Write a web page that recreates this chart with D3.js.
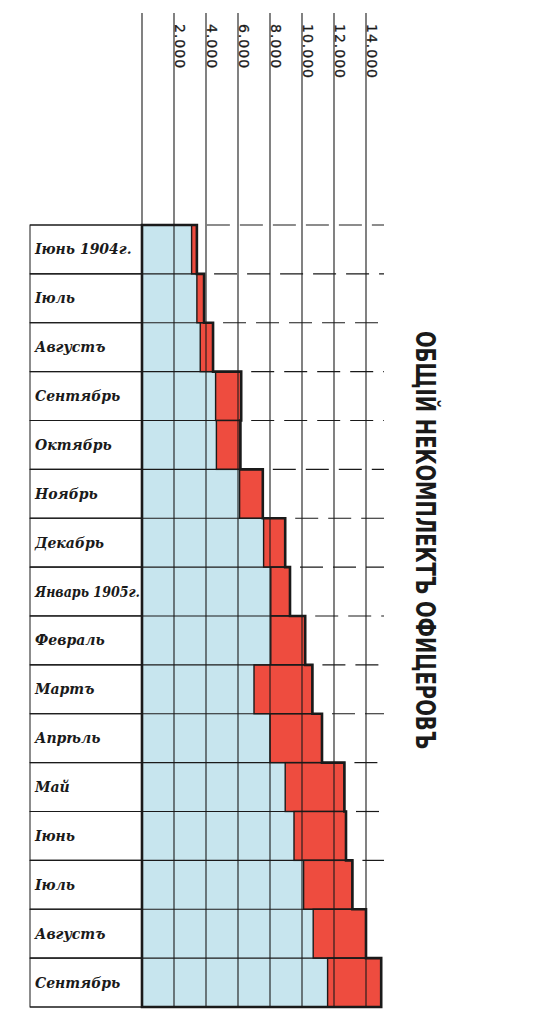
<!DOCTYPE html>
<html>
<head>
<meta charset="utf-8">
<script src="https://cdn.jsdelivr.net/npm/d3@7"></script>
<style>
html,body{margin:0;padding:0;background:#fff;}
svg{display:block;}
</style>
</head>
<body>
<svg id="chart" width="549" height="1016"></svg>
<script>
// ---- data ----
const months = ["Іюнь 1904г.", "Іюль", "Августъ", "Сентябрь", "Октябрь", "Ноябрь", "Декабрь",
  "Январь 1905г.", "Февраль", "Мартъ", "Апрѣль", "Май", "Іюнь", "Іюль", "Августъ", "Сентябрь"];
const blueValues = [3100, 3430, 3640, 4600, 4650, 6100, 7600, 8050, 8050, 7000, 8000, 8950, 9500, 10100, 10700, 11600];
const redValues  = [330, 450, 800, 1600, 1500, 1450, 1350, 1200, 2150, 3650, 3250, 3700, 3250, 3050, 3300, 3350];
const tickValues = [0, 2000, 4000, 6000, 8000, 10000, 12000, 14000];
const tickLabels = ["", "2.000", "4.000", "6.000", "8.000", "10.000", "12.000", "14.000"];
const title = "ОБЩІЙ НЕКОМПЛЕКТЪ ОФИЦЕРОВЪ";

// ---- layout ----
const svg = d3.select("#chart");
const gridTop = 13, plotTop = 225, plotBottom = 1007, labelLeft = 30, dashEnd = 384;
const x = d3.scaleLinear().domain([0, 14000]).range([142, 366]);
const idx = d3.range(months.length);
const y = d3.scaleBand().domain(idx).range([plotTop, plotBottom]).padding(0);
const totals = idx.map(i => blueValues[i] + redValues[i]);
const BLUE = "#c7e5ee", RED = "#ee4c3f", INK = "#1a1a1a";

svg.append("rect").attr("width", 549).attr("height", 1016).attr("fill", "#fff");

// label cells
svg.append("g").selectAll("rect").data(idx).join("rect")
  .attr("x", labelLeft).attr("y", i => y(i))
  .attr("width", x(0) - labelLeft).attr("height", y.bandwidth())
  .attr("fill", "#fff").attr("stroke", INK).attr("stroke-width", 1);

// blue bars
svg.append("g").selectAll("rect").data(idx).join("rect")
  .attr("x", x(0)).attr("y", i => y(i))
  .attr("width", i => x(blueValues[i]) - x(0)).attr("height", y.bandwidth())
  .attr("fill", BLUE);

// red bars
svg.append("g").selectAll("rect").data(idx).join("rect")
  .attr("x", i => x(blueValues[i])).attr("y", i => y(i))
  .attr("width", i => x(totals[i]) - x(blueValues[i])).attr("height", y.bandwidth())
  .attr("fill", RED).attr("stroke", INK).attr("stroke-width", 1.4);

// row boundary lines (inside)
const bounds = d3.range(months.length + 1);
svg.append("g").selectAll("line").data(bounds).join("line")
  .attr("x1", labelLeft)
  .attr("x2", b => {
    const a = totals[Math.max(0, b - 1)], c = totals[Math.min(months.length - 1, b)];
    return x(Math.min(a, c));
  })
  .attr("y1", b => b < months.length ? y(b) : plotBottom)
  .attr("y2", b => b < months.length ? y(b) : plotBottom)
  .attr("stroke", INK).attr("stroke-width", 1.1);

// dashed continuations of row lines
const dashStart = b => x(Math.max(totals[Math.max(0, b - 1)], totals[b])) + 10;
svg.append("g").selectAll("line").data(d3.range(months.length)).join("line")
  .attr("x1", dashStart)
  .attr("x2", dashEnd)
  .attr("y1", b => y(b)).attr("y2", b => y(b))
  .attr("stroke", INK).attr("stroke-width", 1.2)
  .attr("stroke-dasharray", "23,10")
  .attr("display", b => (dashEnd - dashStart(b)) > 12 ? null : "none");

// vertical grid lines
svg.append("g").selectAll("line").data(tickValues).join("line")
  .attr("x1", d => x(d)).attr("x2", d => x(d))
  .attr("y1", gridTop).attr("y2", plotBottom)
  .attr("stroke", INK).attr("stroke-width", 1.1);

// thick envelope of the bars
const pts = [[x(0), plotTop]];
idx.forEach(i => {
  pts.push([x(totals[i]), y(i)]);
  pts.push([x(totals[i]), y(i) + y.bandwidth()]);
});
pts.push([x(0), plotBottom]);
svg.append("path")
  .attr("d", d3.line()(pts) + "Z")
  .attr("fill", "none").attr("stroke", INK).attr("stroke-width", 2.6)
  .attr("stroke-linejoin", "miter");

// tick labels (rotated)
svg.append("g").selectAll("text").data(tickValues.slice(1)).join("text")
  .attr("transform", d => `translate(${x(d) + 1},24) rotate(90)`)
  .attr("font-family", "DejaVu Sans, sans-serif").attr("font-size", 14)
  .attr("letter-spacing", 1).attr("fill", INK)
  .attr("stroke", INK).attr("stroke-width", 0.3)
  .text((d, i) => tickLabels[i + 1]);

// row labels
svg.append("g").selectAll("text").data(idx).join("text")
  .attr("x", labelLeft + 5).attr("y", i => y(i) + y.bandwidth() / 2 + 5)
  .attr("font-family", "DejaVu Serif, serif").attr("font-style", "italic").attr("font-weight", "bold")
  .attr("font-size", 14).attr("fill", INK)
  .each(function(i) {
    const t = d3.select(this).text(months[i]);
    const w = this.getComputedTextLength();
    const maxW = x(0) - labelLeft - 7;
    if (w > maxW) t.attr("textLength", maxW).attr("lengthAdjust", "spacingAndGlyphs");
  });

// title (rotated)
svg.append("text")
  .attr("transform", "translate(416,331) rotate(90)")
  .attr("font-family", "DejaVu Sans, sans-serif").attr("font-weight", "bold")
  .attr("font-stretch", "condensed")
  .attr("font-size", 27).attr("fill", INK)
  .attr("textLength", 418).attr("lengthAdjust", "spacingAndGlyphs")
  .text(title);
</script>
</body>
</html>
